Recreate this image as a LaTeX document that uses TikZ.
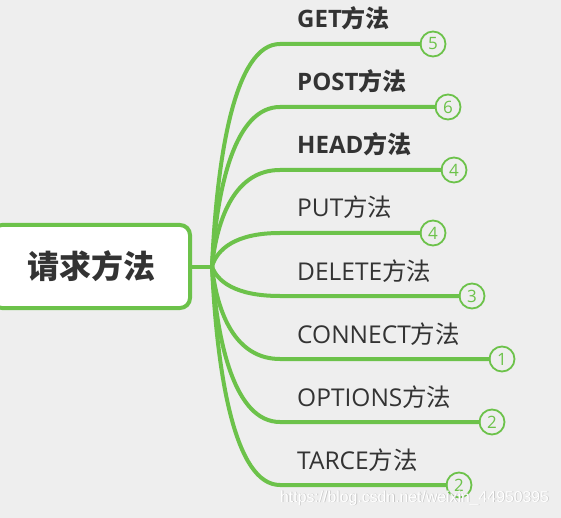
\documentclass[tikz,border=0pt]{standalone}
\usepackage{fontspec}
\setmainfont{Noto Sans CJK SC}
\newfontfamily\lat{Open Sans}
\newfontfamily\wmfont{Liberation Sans}
\definecolor{bgc}{RGB}{238,238,238}
\definecolor{grn}{RGB}{108,194,74}
\definecolor{txt}{RGB}{51,51,51}
\tikzset{
  branch/.style={draw=grn, line width=4pt, line cap=round},
  numc/.style={circle, draw=grn, line width=1.8pt, fill=bgc, minimum size=25pt, inner sep=0pt, text=grn, font=\lat\fontsize{17}{19}\selectfont},
  labb/.style={anchor=base west, inner sep=0pt, text=txt, font=\fontsize{24}{28}\selectfont\bfseries},
  labn/.style={anchor=base west, inner sep=0pt, text=txt, font=\fontsize{24.5}{28}\selectfont},
}
\begin{document}
\begin{tikzpicture}[x=1pt, y=-1pt]
\useasboundingbox (0,0) rectangle (561,518);
\fill[bgc] (0,0) rectangle (561,518);

% root
\node[draw=grn, line width=4pt, fill=white, rounded corners=10pt, minimum width=198pt, minimum height=83pt, inner sep=0pt, text=txt, font=\fontsize{32}{36}\selectfont\bfseries] (root) at (91,266.5) {请求方法};
\coordinate (hub) at (212,266.5);
\draw[branch] (root.east) -- (hub);

% circles
\node[numc] (c0) at (433,44) {5};
\node[numc] (c1) at (448,107) {6};
\node[numc] (c2) at (454,170) {4};
\node[numc] (c3) at (433,233) {4};
\node[numc] (c4) at (472,296) {3};
\node[numc] (c5) at (502,359) {1};
\node[numc] (c6) at (492,422) {2};
\node[numc] (c7) at (459,485) {2};

% branches
\draw[branch] (hub) .. controls (217,155) and (235,44) .. (280,44) -- (c0.west);
\draw[branch] (hub) .. controls (217,186.5) and (235,107) .. (280,107) -- (c1.west);
\draw[branch] (hub) .. controls (217,218) and (235,170) .. (280,170) -- (c2.west);
\draw[branch] (hub) .. controls (217,249.5) and (235,233) .. (280,233) -- (c3.west);
\draw[branch] (hub) .. controls (217,281) and (235,296) .. (280,296) -- (c4.west);
\draw[branch] (hub) .. controls (217,312.5) and (235,359) .. (280,359) -- (c5.west);
\draw[branch] (hub) .. controls (217,344) and (235,422) .. (280,422) -- (c6.west);
\draw[branch] (hub) .. controls (217,375.5) and (235,485) .. (280,485) -- (c7.west);

% labels
\node[labb] (t0) at (297,28) {{\lat GET}方法};
\node[labb] (t1) at (297,91) {{\lat POST}方法};
\node[labb] (t2) at (297,154) {{\lat HEAD}方法};
\node[labn] (t3) at (297,217) {{\lat PUT}方法};
\node[labn] (t4) at (297,280) {{\lat DELETE}方法};
\node[labn] (t5) at (297,343) {{\lat CONNECT}方法};
\node[labn] (t6) at (297,406) {{\lat OPTIONS}方法};
\node[labn] (t7) at (297,469) {{\lat TARCE}方法};

% watermark
\node[anchor=west, inner sep=0pt, text=black!22, font=\wmfont\fontsize{15.8}{17}\selectfont] (wms) at (280.8,498.8) {https://blog.csdn.net/weixin\_44950395};
\node[anchor=west, inner sep=0pt, text=white, font=\wmfont\fontsize{15.8}{17}\selectfont] (wm) at (280,498) {https://blog.csdn.net/weixin\_44950395};
\end{tikzpicture}
\end{document}
